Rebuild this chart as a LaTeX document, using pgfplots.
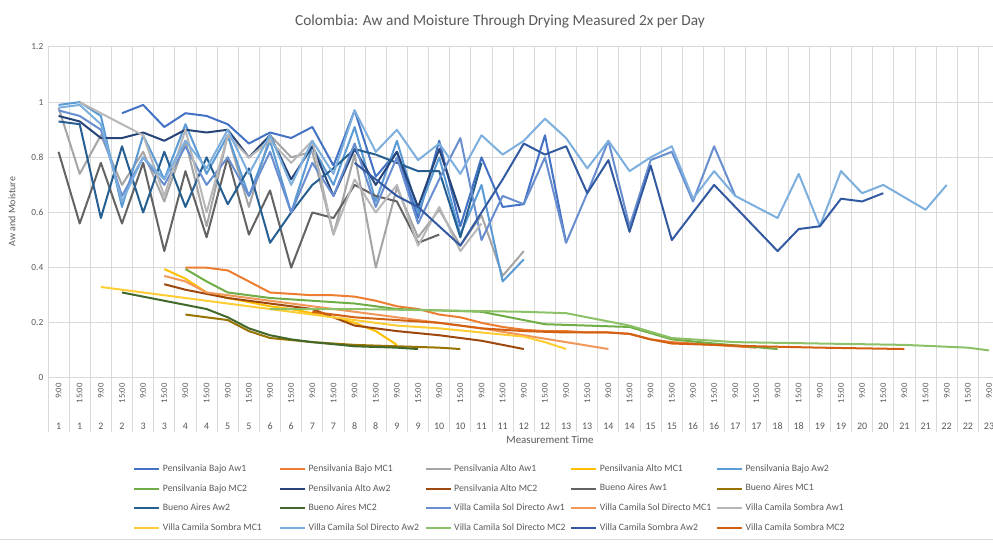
\documentclass[border=0pt]{standalone}
\usepackage{fontspec}
\setmainfont{Carlito}
\usepackage{graphicx}
\usepackage{pgfplots}
\pgfplotsset{compat=1.18}
\definecolor{colA}{HTML}{4472C4}\definecolor{colB}{HTML}{ED7D31}\definecolor{colC}{HTML}{A5A5A5}
\definecolor{colD}{HTML}{FFC000}\definecolor{colE}{HTML}{5B9BD5}\definecolor{colF}{HTML}{70AD47}
\definecolor{colG}{HTML}{264478}\definecolor{colH}{HTML}{9E480E}\definecolor{colI}{HTML}{636363}
\definecolor{colJ}{HTML}{997300}\definecolor{colK}{HTML}{255E91}\definecolor{colL}{HTML}{43682B}
\definecolor{colM}{HTML}{698ED0}\definecolor{colN}{HTML}{F1975A}\definecolor{colO}{HTML}{B7B7B7}
\definecolor{colP}{HTML}{FFCD33}\definecolor{colQ}{HTML}{7CAFDD}\definecolor{colR}{HTML}{8CC168}
\definecolor{colS}{HTML}{335AA1}\definecolor{colT}{HTML}{D26012}
\definecolor{gridgray}{HTML}{D9D9D9}\definecolor{labelgray}{HTML}{595959}
\newcommand{\T}[2]{\rotatebox{90}{\makebox[27pt][r]{#1}}\\[0pt]{\fontsize{7.5}{9}\selectfont #2}}
\newcommand{\LE}[1]{\makebox[85pt][l]{#1}}
\begin{document}
\begin{tikzpicture}[x=1pt,y=1pt]
\path[use as bounding box] (0,0) rectangle (744.75,408.75);
\node[font=\fontsize{11.5}{13}\selectfont, text=labelgray] at (375,392.25) {Colombia: Aw and Moisture Through Drying Measured 2x per Day};
\node[rotate=90, font=\fontsize{7.5}{9}\selectfont, text=labelgray] at (9,250) {Aw and Moisture};
\node[font=\fontsize{8.2}{10}\selectfont, text=labelgray] at (412.5,78.75) {Measurement Time};
\begin{axis}[
  at={(36pt,125.25pt)}, anchor=south west,
  scale only axis, width=713.7pt, height=248.25pt,
  xmin=-0.5, xmax=44.5, ymin=0, ymax=1.2,
  ytick={0,0.2,0.4,0.6,0.8,1,1.2},
  yticklabels={0,0.2,0.4,0.6,0.8,1,1.2},
  yticklabel style={font=\fontsize{7}{8}\selectfont, text=labelgray},
  ymajorgrids, grid style={draw=gridgray, line width=0.75pt},
  xtick={0,...,44},
  xticklabels={\T{9:00}{1},\T{15:00}{1},\T{9:00}{2},\T{15:00}{2},\T{9:00}{3},\T{15:00}{3},\T{9:00}{4},\T{15:00}{4},\T{9:00}{5},\T{15:00}{5},\T{9:00}{6},\T{15:00}{6},\T{9:00}{7},\T{15:00}{7},\T{9:00}{8},\T{15:00}{8},\T{9:00}{9},\T{15:00}{9},\T{9:00}{10},\T{15:00}{10},\T{9:00}{11},\T{15:00}{11},\T{9:00}{12},\T{15:00}{12},\T{9:00}{13},\T{15:00}{13},\T{9:00}{14},\T{15:00}{14},\T{9:00}{15},\T{15:00}{15},\T{9:00}{16},\T{15:00}{16},\T{9:00}{17},\T{15:00}{17},\T{9:00}{18},\T{15:00}{18},\T{9:00}{19},\T{15:00}{19},\T{9:00}{20},\T{15:00}{20},\T{9:00}{21},\T{15:00}{21},\T{9:00}{22},\T{15:00}{22},\T{9:00}{23}},
  xticklabel style={font=\fontsize{6.5}{8}\selectfont, text=labelgray, anchor=north, align=center, inner sep=0pt, yshift=-3.75pt},
  major tick length=0pt,
  minor xtick={-0.5,0.5,...,44.5},
  xminorgrids, minor grid style={draw=gridgray, line width=0.75pt},
  minor tick length=40.5pt, tick align=outside, tick pos=left,
  minor tick style={draw=gridgray, line width=0.75pt},
  axis line style={draw=none},
  clip=true,
  every axis plot/.append style={line width=1.5pt, line join=round, mark=none},
  legend columns=5,
  legend cell align=left,
  legend style={at={(axis description cs:0.0851,-0.245)}, anchor=north west, draw=none, fill=none,
    font=\fontsize{7.3}{9}\selectfont, text=labelgray, row sep=4.1pt},
  legend image code/.code={\draw[#1] (0pt,0pt) -- (18.75pt,0pt);},
]
% Pensilvania Bajo Aw1
\addplot[color=colA] coordinates {(3,0.96)(4,0.99)(5,0.91)(6,0.96)(7,0.95)(8,0.92)(9,0.85)(10,0.89)(11,0.87)(12,0.91)(13,0.77)(14,0.97)(15,0.73)(16,0.82)(17,0.58)(18,0.86)(19,0.55)(20,0.80)(21,0.62)(22,0.63)(23,0.88)(24,0.49)};
% Pensilvania Bajo MC1
\addplot[color=colB] coordinates {(6,0.40)(7,0.40)(8,0.39)(9,0.35)(10,0.31)(11,0.305)(12,0.30)(13,0.30)(14,0.295)(15,0.28)(16,0.26)(17,0.25)(18,0.23)(19,0.22)(20,0.20)(21,0.185)(22,0.175)(23,0.17)(24,0.17)(25,0.165)(26,0.165)(27,0.16)(28,0.14)(29,0.13)(30,0.125)(31,0.12)(32,0.115)(33,0.11)};
% Pensilvania Alto Aw1
\addplot[color=colC] coordinates {(0,0.98)(1,0.74)(2,0.88)(3,0.70)(4,0.82)(5,0.64)(6,0.86)(7,0.55)(8,0.88)(9,0.62)(10,0.88)(11,0.80)(12,0.82)(13,0.52)(14,0.81)(15,0.40)(16,0.69)(17,0.51)(18,0.61)(19,0.48)(20,0.59)(21,0.37)(22,0.46)};
% Pensilvania Alto MC1
\addplot[color=colD] coordinates {(5,0.395)(6,0.36)(7,0.31)(8,0.29)(9,0.275)(10,0.26)(11,0.25)(12,0.235)(13,0.22)(14,0.20)(15,0.17)(16,0.12)};
% Pensilvania Bajo Aw2
\addplot[color=colE] coordinates {(0,0.99)(1,1.0)(2,0.95)(3,0.62)(4,0.88)(5,0.72)(6,0.92)(7,0.74)(8,0.88)(9,0.66)(10,0.86)(11,0.60)(12,0.84)(13,0.70)(14,0.91)(15,0.64)(16,0.86)(17,0.60)(18,0.80)(19,0.52)(20,0.70)(21,0.35)(22,0.43)};
% Pensilvania Bajo MC2
\addplot[color=colF] coordinates {(6,0.395)(7,0.35)(8,0.31)(9,0.30)(10,0.29)(12,0.28)(14,0.27)(16,0.25)(18,0.245)(20,0.24)(22,0.21)(23,0.195)(25,0.19)(27,0.185)(29,0.14)(31,0.125)(34,0.105)};
% Pensilvania Alto Aw2
\addplot[color=colG] coordinates {(0,0.95)(1,0.93)(2,0.87)(3,0.87)(4,0.89)(5,0.86)(6,0.90)(7,0.89)(8,0.90)(9,0.80)(10,0.88)(11,0.72)(12,0.84)(13,0.66)(14,0.83)(15,0.70)(16,0.82)(17,0.62)(18,0.83)(19,0.60)};
% Pensilvania Alto MC2
\addplot[color=colH] coordinates {(5,0.34)(6,0.32)(8,0.29)(10,0.27)(12,0.25)(13,0.22)(14,0.19)(16,0.17)(18,0.155)(20,0.135)(22,0.105)};
% Bueno Aires Aw1
\addplot[color=colI] coordinates {(0,0.82)(1,0.56)(2,0.78)(3,0.56)(4,0.78)(5,0.46)(6,0.75)(7,0.51)(8,0.80)(9,0.52)(10,0.68)(11,0.40)(12,0.60)(13,0.58)(14,0.70)(15,0.66)(16,0.64)(17,0.49)(18,0.52)};
% Bueno Aires MC1
\addplot[color=colJ] coordinates {(6,0.23)(7,0.22)(8,0.21)(9,0.17)(10,0.145)(12,0.13)(14,0.12)(16,0.115)(18,0.11)(19,0.105)};
% Bueno Aires Aw2
\addplot[color=colK] coordinates {(0,0.93)(1,0.92)(2,0.58)(3,0.84)(4,0.60)(5,0.82)(6,0.62)(7,0.80)(8,0.63)(9,0.76)(10,0.49)(11,0.60)(12,0.70)(13,0.76)(14,0.83)(15,0.81)(16,0.78)(17,0.75)(18,0.75)(19,0.51)(20,0.78)};
% Bueno Aires MC2
\addplot[color=colL] coordinates {(3,0.31)(5,0.28)(7,0.25)(8,0.22)(9,0.18)(10,0.155)(11,0.14)(12,0.13)(14,0.115)(16,0.11)(17,0.105)};
% Villa Camila Sol Directo Aw1
\addplot[color=colM] coordinates {(0,0.97)(1,0.95)(2,0.90)(3,0.66)(4,0.80)(5,0.70)(6,0.84)(7,0.70)(8,0.80)(9,0.66)(10,0.82)(11,0.60)(12,0.78)(13,0.66)(14,0.85)(15,0.62)(16,0.80)(17,0.56)(18,0.72)(19,0.87)(20,0.50)(21,0.66)(22,0.63)(23,0.80)(24,0.49)(25,0.67)(26,0.86)(27,0.55)(28,0.79)(29,0.82)(30,0.64)(31,0.84)(32,0.66)};
% Villa Camila Sol Directo MC1
\addplot[color=colN] coordinates {(5,0.37)(6,0.35)(7,0.31)(8,0.30)(10,0.28)(12,0.26)(14,0.24)(16,0.22)(18,0.20)(20,0.18)(22,0.155)(24,0.13)(26,0.105)};
% Villa Camila Sombra Aw1
\addplot[color=colO] coordinates {(1,1.0)(2,0.96)(3,0.92)(4,0.88)(5,0.66)(6,0.90)(7,0.60)(8,0.88)(9,0.80)(10,0.86)(11,0.78)(12,0.86)(13,0.52)(14,0.72)(15,0.60)(16,0.70)(17,0.48)(18,0.62)(19,0.46)(20,0.56)};
% Villa Camila Sombra MC1
\addplot[color=colP] coordinates {(2,0.33)(3,0.32)(4,0.31)(5,0.30)(6,0.29)(7,0.28)(8,0.27)(10,0.25)(12,0.23)(14,0.21)(16,0.19)(18,0.18)(20,0.165)(22,0.15)(23,0.13)(24,0.105)};
% Villa Camila Sol Directo Aw2
\addplot[color=colQ] coordinates {(0,0.98)(1,0.99)(2,0.92)(3,0.64)(4,0.80)(5,0.72)(6,0.86)(7,0.76)(8,0.90)(9,0.74)(10,0.88)(11,0.70)(12,0.86)(13,0.74)(14,0.97)(15,0.82)(16,0.90)(17,0.79)(18,0.85)(19,0.74)(20,0.88)(21,0.81)(22,0.86)(23,0.94)(24,0.87)(25,0.76)(26,0.86)(27,0.75)(28,0.80)(29,0.84)(30,0.65)(31,0.75)(32,0.66)(33,0.62)(34,0.58)(35,0.74)(36,0.55)(37,0.75)(38,0.67)(39,0.70)(40,0.655)(41,0.61)(42,0.70)};
% Villa Camila Sol Directo MC2
\addplot[color=colR] coordinates {(10,0.25)(14,0.25)(18,0.245)(22,0.24)(24,0.235)(27,0.19)(29,0.145)(32,0.13)(36,0.125)(40,0.12)(43,0.11)(44,0.10)};
% Villa Camila Sombra Aw2
\addplot[color=colS] coordinates {(14,0.78)(15,0.72)(16,0.66)(17,0.62)(18,0.55)(19,0.48)(20,0.60)(21,0.72)(22,0.85)(23,0.81)(24,0.84)(25,0.67)(26,0.79)(27,0.53)(28,0.77)(29,0.50)(30,0.60)(31,0.70)(32,0.62)(33,0.54)(34,0.46)(35,0.54)(36,0.55)(37,0.65)(38,0.64)(39,0.67)};
% Villa Camila Sombra MC2
\addplot[color=colT] coordinates {(12,0.24)(14,0.22)(16,0.21)(18,0.20)(20,0.18)(22,0.17)(24,0.165)(26,0.165)(27,0.16)(28,0.14)(29,0.125)(31,0.12)(33,0.115)(36,0.11)(40,0.105)};
\legend{\LE{Pensilvania Bajo Aw1},\LE{Pensilvania Bajo MC1},\LE{Pensilvania Alto Aw1},\LE{Pensilvania Alto MC1},\LE{Pensilvania Bajo Aw2},
\LE{Pensilvania Bajo MC2},\LE{Pensilvania Alto Aw2},\LE{Pensilvania Alto MC2},\LE{Bueno Aires Aw1},\LE{Bueno Aires MC1},
\LE{Bueno Aires Aw2},\LE{Bueno Aires MC2},\LE{Villa Camila Sol Directo Aw1},\LE{Villa Camila Sol Directo MC1},\LE{Villa Camila Sombra Aw1},
\LE{Villa Camila Sombra MC1},\LE{Villa Camila Sol Directo Aw2},\LE{Villa Camila Sol Directo MC2},\LE{Villa Camila Sombra Aw2},\LE{Villa Camila Sombra MC2}}
\end{axis}
\draw[gridgray, line width=0.75pt] (0,3.75) -- (744.75,3.75);
\end{tikzpicture}
\end{document}
